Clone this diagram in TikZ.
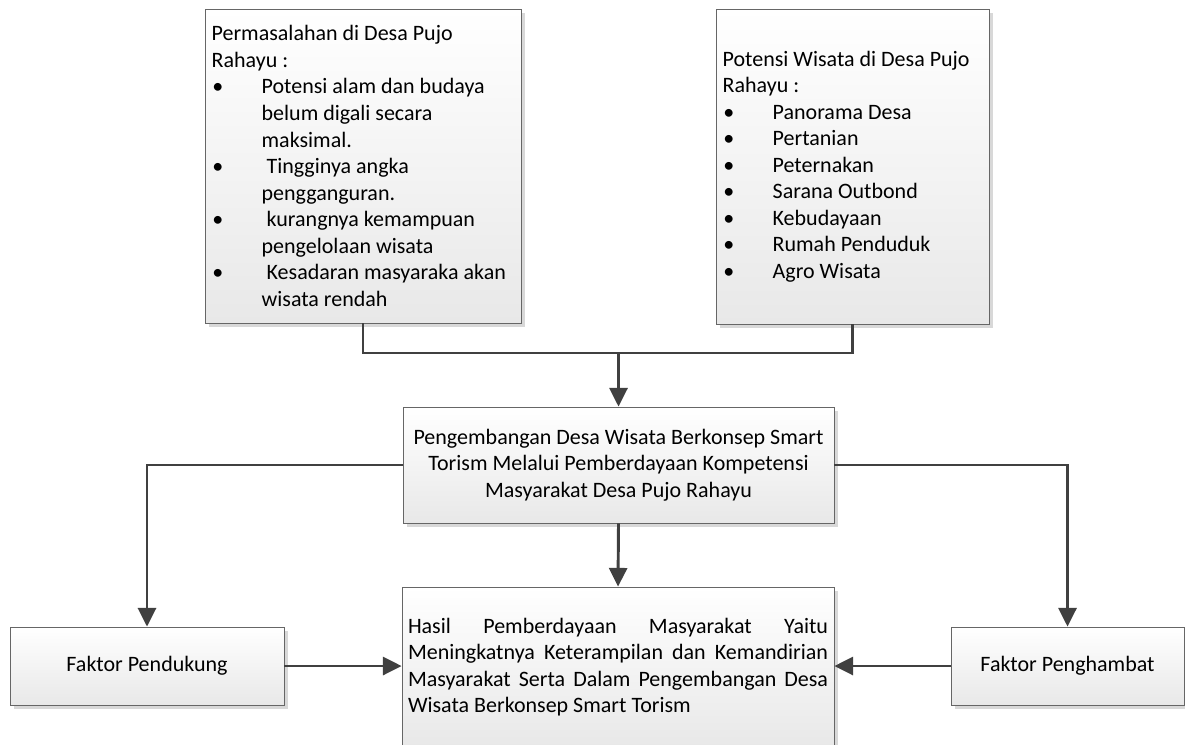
\documentclass[tikz,border=0pt]{standalone}
\usepackage{fontspec}
\setmainfont{Carlito}
\usetikzlibrary{arrows.meta}
\usetikzlibrary{shadows}

\newcommand{\rapat}{\spaceskip=0pt\relax\xspaceskip=0pt\relax}
\newcommand{\butir}{\makebox[37.5pt][l]{\hspace{0.5pt}\textbullet}}
\newcommand{\lanjut}{\hspace*{37.5pt}}
\newcommand{\rata}[1]{\makebox[\linewidth][s]{#1}}

\tikzset{
  kotak/.style={draw=black!60, line width=0.6pt, top color=white, bottom color=black!9,
    drop shadow={shadow xshift=3pt, shadow yshift=-3pt, fill=black!30, opacity=0.5},
    inner xsep=5pt, inner ysep=0pt, font=\fontsize{16.5}{19.9}\selectfont},
  garis/.style={draw=black!75, line width=2.2pt},
  panah/.style={garis, -{Triangle[width=13.5pt,length=14pt]}}
}

\begin{document}
\begin{tikzpicture}[x=0.75pt,y=-0.75pt]
  \useasboundingbox (0,0) rectangle (1185,744);
  %% kotak atas
  \node[kotak, minimum width=237pt, minimum height=235.5pt, text width=227pt, align=left] (masalah) at (363,166) {\rapat Permasalahan di Desa Pujo\\Rahayu :\\
    \butir Potensi alam dan budaya\\\lanjut belum digali secara\\\lanjut maksimal.\\
    \butir\ Tingginya angka\\\lanjut pengganguran.\\
    \butir\ kurangnya kemampuan\\\lanjut pengelolaan wisata\\
    \butir\ Kesadaran masyaraka akan\\\lanjut wisata rendah};
  \node[kotak, minimum width=204.75pt, minimum height=236.25pt, text width=194.75pt, align=left] (potensi) at (852.5,166.5) {\rapat Potensi Wisata di Desa Pujo\\Rahayu :\\
    \butir Panorama Desa\\\butir Pertanian\\\butir Peternakan\\\butir Sarana Outbond\\
    \butir Kebudayaan\\\butir Rumah Penduduk\\\butir Agro Wisata};
  %% kotak tengah
  \node[kotak, minimum width=323.25pt, minimum height=87pt, align=center] (tengah) at (618.5,465) {\rapat Pengembangan Desa Wisata Berkonsep Smart\\Torism Melalui Pemberdayaan Kompetensi\\Masyarakat Desa Pujo Rahayu};
  %% kotak bawah
  \node[kotak, minimum width=205.5pt, minimum height=58.5pt] (pendukung) at (147,666) {Faktor Pendukung};
  \node[kotak, minimum width=174.75pt, minimum height=58.5pt] (penghambat) at (1067.5,666) {Faktor Penghambat};
  \node[kotak, minimum width=324pt, minimum height=120pt, inner xsep=4.5pt, text width=315pt, align=left] (hasil) at (618,667) {\rapat\rata{Hasil Pemberdayaan Masyarakat Yaitu}\\\rata{Meningkatnya Keterampilan dan Kemandirian}\\\rata{Masyarakat Serta Dalam Pengembangan Desa}\\Wisata Berkonsep Smart Torism};
  %% penghubung
  \coordinate (gabung) at (618.5,353);
  \draw[garis] (masalah.south) |- (gabung) -| (potensi.south);
  \draw[panah] (gabung) -- (tengah.north);
  \draw[panah] (tengah.west) -| (pendukung.north);
  \draw[panah] (tengah.east) -| (penghambat.north);
  \draw[panah] (tengah.south) -- (hasil.north);
  \draw[panah] (pendukung.east) -- (pendukung.east -| hasil.west);
  \draw[panah] (penghambat.west) -- (penghambat.west -| hasil.east);
\end{tikzpicture}
\end{document}
